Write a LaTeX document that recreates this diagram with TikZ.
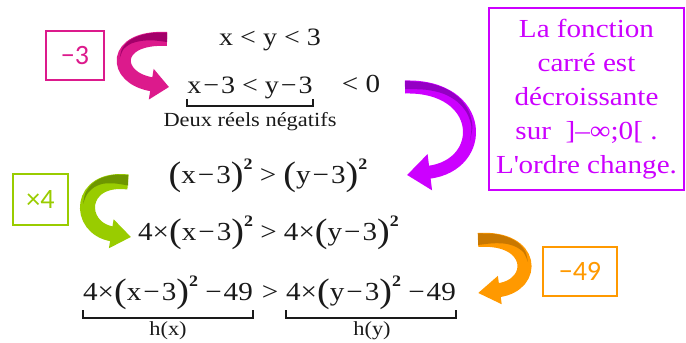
\documentclass[tikz,border=0pt]{standalone}
\usepackage{fontspec}
\setmainfont{Liberation Serif}[FakeStretch=1.12]
\newfontfamily\boxfont{Carlito}
\usetikzlibrary{arrows.meta}
\definecolor{ink}{HTML}{1A1A1A}
\definecolor{mag}{HTML}{DC1A8C}
\definecolor{magdark}{HTML}{A3006A}
\definecolor{pur}{HTML}{CC00FF}
\definecolor{purdark}{HTML}{9400C4}
\definecolor{grn}{HTML}{99CC00}
\definecolor{grndark}{HTML}{6E9600}
\definecolor{org}{HTML}{FF9900}
\definecolor{orgdark}{HTML}{C97800}
\newcommand\myLP{\raisebox{-2.5pt}{\fontsize{34}{34}\selectfont(}}
\newcommand\myRP{\raisebox{-2.5pt}{\fontsize{34}{34}\selectfont)}}
\newcommand\mySQ{\raisebox{13.5pt}{\fontsize{16}{16}\selectfont\bfseries 2}}
\newcommand\myMI{\hspace{2pt}−\hspace{2pt}}
\begin{document}
\begin{tikzpicture}[x=1pt,y=-1pt,
  eq/.style={inner sep=0pt, anchor=base, text=ink, font=\fontsize{26}{26}\selectfont},
  small/.style={inner sep=0pt, anchor=base, text=ink, font=\fontsize{20}{20}\selectfont},
  lbl/.style={draw, line width=1.8pt, inner sep=0pt, font=\boxfont\fontsize{28}{28}\selectfont},
  brk/.style={line width=1.4pt, draw=ink},
  band/.style={line width=14pt}]
\useasboundingbox (0,0) rectangle (686,343);

% equations
\node[eq, font=\fontsize{25}{25}\selectfont] (l1) at (270,45) {x < y < 3};
\node[eq, font=\fontsize{25}{25}\selectfont] (l2) at (250,93) {x\myMI 3 < y\myMI 3};
\node[eq] (neg) at (361,92) {< 0};
\node[small] (dr) at (250,126) {Deux réels négatifs};
\draw[brk] (l2.west |- 0,99) -- (l2.west |- 0,106) -- (l2.east |- 0,106) -- (l2.east |- 0,99);

\node[eq] (l3) at (268,183) {\myLP x\myMI 3\myRP\mySQ\ > \myLP y\myMI 3\myRP\mySQ};
\node[eq] (l4) at (268.5,240) {4×\myLP x\myMI 3\myRP\mySQ\ > 4×\myLP y\myMI 3\myRP\mySQ};
\node[eq] (hx) at (168,300) {4×\myLP x\myMI 3\myRP\mySQ\ −\hspace{2pt}49};
\node[eq] (gt) at (270,300) {>};
\node[eq] (hy) at (371,300) {4×\myLP y\myMI 3\myRP\mySQ\ −\hspace{2pt}49};
\draw[brk] (hx.west |- 0,310) -- (hx.west |- 0,318) -- (hx.east |- 0,318) -- (hx.east |- 0,310);
\draw[brk] (hy.west |- 0,310) -- (hy.west |- 0,318) -- (hy.east |- 0,318) -- (hy.east |- 0,310);
\node[small] (lhx) at (168,335) {h(x)};
\node[small] (lhy) at (372,335) {h(y)};

% boxes
\node[lbl, draw=mag, text=mag, minimum width=58pt, minimum height=49pt] (b3) at (75,55.5) {−3};
\node[lbl, draw=grn, text=grn, minimum width=55pt, minimum height=51pt] (b4) at (40.5,199.5) {×4};
\node[lbl, draw=org, text=org, minimum width=74pt, minimum height=49pt] (b49) at (580,271.5) {−49};
\node[draw=pur, line width=1.8pt, minimum width=195pt, minimum height=182pt, text=pur, align=center,
  inner sep=0pt, font=\fontsize{26}{34}\selectfont] (info) at (586.5,99)
  {La fonction\\carré est\\décroissante\\sur \ ]–∞;0[ .\\L\textquotesingle ordre change.};

% magenta curved arrow
\coordinate (ms) at (167,39);
\coordinate (mt) at (169,87);
\draw[band, mag, -{Triangle[length=18pt,width=30pt]}] (ms) .. controls (112,36) and (112,78) .. (mt);
\fill[magdark] plot[smooth] coordinates {(167,32.7) (151.4,33.0) (138.5,36.1) (128.5,41.3) (121.9,49.1) (119.7,58.5)}
  -- plot[smooth] coordinates {(119.7,58.5) (123.1,49.7) (130.5,43.9) (140.3,41.1) (152.2,40.3) (167,42)} -- cycle;

% purple curved arrow
\coordinate (ps) at (405,87);
\coordinate (pt) at (407,175);
\draw[band, pur, line width=13pt, -{Triangle[length=23pt,width=35pt]}] (ps) .. controls (485,85) and (488,165) .. (pt);
\fill[purdark] plot[smooth] coordinates {(405,81) (427.9,82.9) (446.4,89.0) (460.3,99.0) (469.0,111.8) (472.4,126.4) (469.9,141.2)}
  -- plot[smooth] coordinates {(469.9,141.2) (471.4,126.45) (466.7,112.8) (457.4,101.8) (443.9,93.9) (426.5,89.8) (405,89)} -- cycle;

% green curved arrow
\coordinate (gs) at (128,182);
\coordinate (gt) at (131,237);
\draw[band, grn, line width=15pt, -{Triangle[length=20pt,width=28pt]}] (gs) .. controls (78,176) and (76,228) .. (gt);
\fill[grndark] plot[smooth] coordinates {(128,175) (113.7,174.9) (101.0,178.2) (91.4,184.5) (85.2,193.5) (83.1,203.9)}
  -- plot[smooth] coordinates {(83.1,203.9) (87.0,194.3) (94.1,187.3) (103.4,183.7) (114.7,183.4) (128,185.5)} -- cycle;

% orange curved arrow
\coordinate (os) at (478,240);
\coordinate (ot) at (478,293);
\draw[band, org, -{Triangle[length=22pt,width=27pt]}] (os) .. controls (535,236) and (537,285) .. (ot);
\fill[orgdark] plot[smooth] coordinates {(478,233.5) (494.3,233.9) (507.8,237.2) (518.5,243.2) (525.4,251.6) (528.0,262.0)}
  -- plot[smooth] coordinates {(528.0,262.0) (523.6,252.5) (515.6,246.7) (505.3,243.7) (493.1,243.3) (478,245)} -- cycle;
\end{tikzpicture}
\end{document}
